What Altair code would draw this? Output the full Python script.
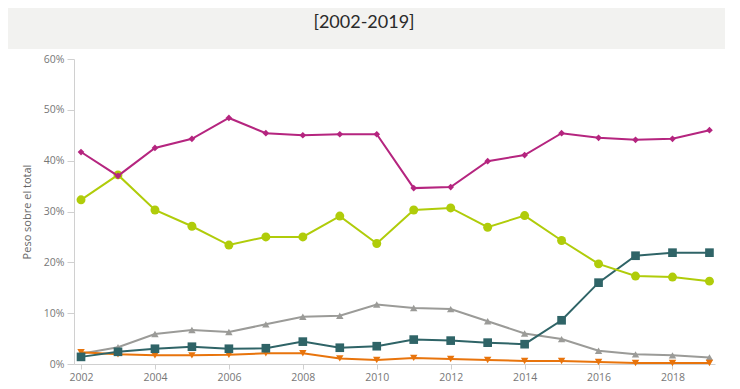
import altair as alt
import pandas as pd

years = list(range(2002, 2020))
series_names = ["Otros", "Naranja", "Banco Central", "Extranjeros", "Entidades"]

magenta = [41.7, 37.0, 42.5, 44.3, 48.4, 45.4, 45.0, 45.2, 45.2, 34.6, 34.8, 39.9, 41.1, 45.4, 44.5, 44.1, 44.3, 46.0]
green = [32.3, 37.2, 30.3, 27.1, 23.4, 25.0, 25.0, 29.1, 23.7, 30.3, 30.7, 26.9, 29.2, 24.3, 19.7, 17.3, 17.1, 16.3]
grey = [2.0, 3.3, 5.9, 6.7, 6.3, 7.8, 9.3, 9.5, 11.7, 11.0, 10.8, 8.4, 6.0, 4.9, 2.6, 1.9, 1.7, 1.3]
teal = [1.4, 2.4, 3.0, 3.4, 3.0, 3.1, 4.4, 3.2, 3.5, 4.8, 4.6, 4.2, 3.9, 8.6, 16.0, 21.3, 21.9, 21.9]
orange = [2.3, 1.9, 1.7, 1.7, 1.8, 2.1, 2.1, 1.1, 0.8, 1.2, 1.0, 0.8, 0.6, 0.6, 0.4, 0.2, 0.2, 0.2]

series_values = [grey, orange, teal, green, magenta]
colors = ["#9b9b98", "#e8740c", "#2f6467", "#b0cc0a", "#b5257f"]
shapes = ["triangle-up", "triangle-down", "square", "circle", "diamond"]
sizes = [55, 55, 75, 80, 45]

x_ticks = [2002, 2004, 2006, 2008, 2010, 2012, 2014, 2016, 2018]
y_ticks = [0, 0.1, 0.2, 0.3, 0.4, 0.5, 0.6]

title_text = "Evolución de los tenedores de deuda española"
subtitle_text = "[2002-2019]"
y_title = "Peso sobre el total"

rows = []
for order, (name, vals) in enumerate(zip(series_names, series_values)):
    for y, v in zip(years, vals):
        rows.append({"year": y, "value": v / 100, "series": name, "order": order})
df = pd.DataFrame(rows)

W, H = 641, 305

x_enc = alt.X("year:Q", scale=alt.Scale(domain=[2001.81, 2019.15], nice=False, zero=False),
              axis=alt.Axis(values=x_ticks, format="d", title=None, grid=False,
                            tickSize=5, labelPadding=3))
y_enc = alt.Y("value:Q", scale=alt.Scale(domain=[0, 0.6], nice=False),
              axis=alt.Axis(values=y_ticks, format=".0%", title=y_title, grid=False,
                            tickSize=7, labelPadding=3, titlePadding=11,
                            titleFontWeight="normal", titleFontSize=11, titleColor="#666666",
                            titleFont="Open Sans"))

header_df = pd.DataFrame({"a": [0]})
header = alt.Chart(header_df).mark_rect(color="#f2f2f0").encode(
    x=alt.value(-71), x2=alt.value(651), y=alt.value(-70), y2=alt.value(-10))
title = alt.Chart(header_df).mark_text(fontSize=26, fontWeight="bold", font="Open Sans",
                                       color="#222222", align="center", baseline="alphabetic").encode(
    x=alt.value(290), y=alt.value(-60), text=alt.value(title_text))
subtitle = alt.Chart(header_df).mark_text(fontSize=18, font="Lato", color="#2a2a2a",
                                          align="center", baseline="middle").encode(
    x=alt.value(290), y=alt.value(-36), text=alt.value(subtitle_text))

layers = [header, title, subtitle]
for name, col, shp, sz in zip(series_names, colors, shapes, sizes):
    sub = df[df["series"] == name]
    line = alt.Chart(sub).mark_line(color=col, strokeWidth=2).encode(x=x_enc, y=y_enc)
    pts = alt.Chart(sub).mark_point(color=col, filled=True, opacity=1, shape=shp, size=sz).encode(x=x_enc, y=y_enc)
    layers += [line, pts]

chart = alt.layer(*layers).properties(
    width=W, height=H,
    autosize=alt.AutoSizeParams(type="none"),
    padding={"left": 66, "top": 51, "right": 17, "bottom": 24},
).configure_view(stroke=None).configure_axis(
    domainColor="#d0d0d0", tickColor="#d0d0d0", labelColor="#777777",
    labelFont="Open Sans", labelFontSize=10.5,
)

chart.save("out.html", embed_options={"renderer": "svg", "actions": False})
